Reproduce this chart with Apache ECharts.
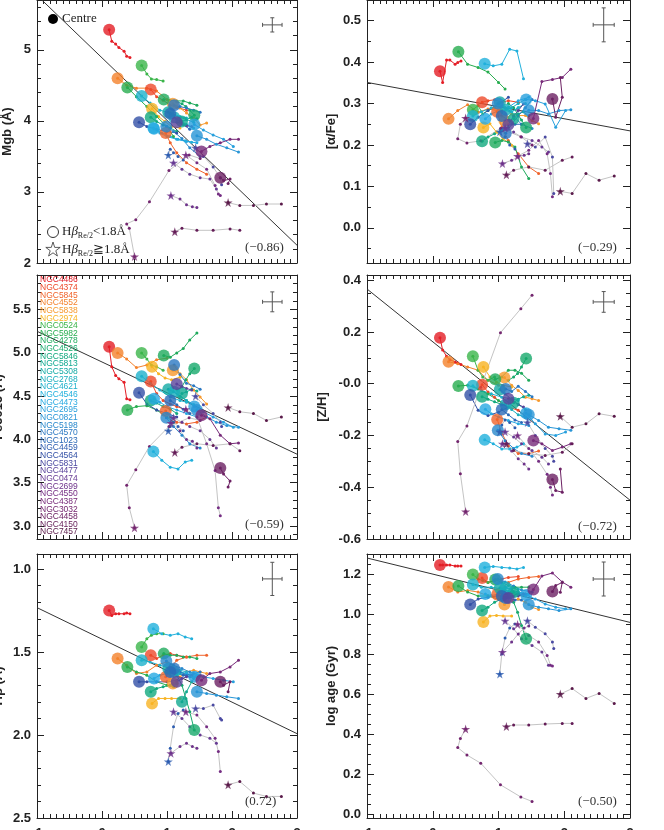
<!DOCTYPE html>
<html>
<head>
<meta charset="utf-8">
<script src="https://cdn.jsdelivr.net/npm/echarts@6/dist/echarts.min.js"></script>
<style>
  html, body { margin: 0; padding: 0; background: #fff; }
  #chart { width: 664px; height: 830px; }
</style>
</head>
<body>
<div id="chart"></div>
<script>
// galaxies, in the order of the name list
const names = ['NGC4486','NGC4374','NGC5845','NGC4552','NGC5838','NGC2974','NGC0524','NGC5982','NGC4278','NGC4526',
  'NGC5846','NGC5813','NGC5308','NGC2768','NGC4621','NGC4546','NGC4473','NGC2695','NGC0821','NGC5198',
  'NGC4570','NGC1023','NGC4459','NGC4564','NGC5831','NGC4477','NGC0474','NGC2699','NGC4550','NGC4387',
  'NGC3032','NGC4458','NGC4150','NGC7457']
const colors = ['#e41e26','#ee4a2a','#f0642c','#f4822c','#f79a2e','#f8b323','#3bb54a','#27ad4f','#1faa5c','#17a96c',
  '#12a97e','#11a991','#13aaa5','#18aebd','#1eb2cc','#21b0dc','#25a9e2','#27a0dd','#2895d6','#2888cc',
  '#2a78c2','#2a6ab8','#2d5db0','#3250a6','#4a4aa2','#5a439b','#663a93','#6e338b','#752d83','#772a79',
  '#73256e','#6c2163','#641d57','#5a1a4a']
// Hbeta(Re/2) >= 1.8 -> drawn as a star
const isStar = [0,0,0,0,0,0,0,0,0,0, 0,0,0,0,0,0,0,0,0,0, 0,0,1,0,1,0,1,1,1,0, 1,0,1,1]

// radial tracks: first point is the centre
const xTrack = [
  [0.11,0.15,0.21,0.26,0.34,0.38,0.43],
  [0.75,0.84,0.94,1.05,1.15,1.30],
  [0.98,1.05,1.15,1.30,1.46,1.61],
  [0.24,0.38,0.53,0.69,0.84,1.00],
  [1.09,1.20,1.30,1.41,1.51,1.61],
  [0.77,0.87,0.97,1.07,1.20],
  [0.61,0.69,0.76,0.84,0.94],
  [0.39,0.53,0.69,0.84,1.00,1.10],
  [0.95,1.05,1.15,1.25,1.35,1.46],
  [1.42,1.35,1.29,1.23,1.15],
  [0.75,0.84,0.94,1.05,1.15],
  [1.23,1.30,1.38,1.46],
  [1.02,1.10,1.20,1.30,1.41],
  [1.11,1.20,1.30,1.41],
  [0.61,0.74,0.89,1.05,1.20,1.30],
  [0.79,0.92,1.05,1.17,1.28,1.38],
  [0.80,0.89,1.00,1.15,1.30,1.46],
  [1.42,1.56,1.71,1.87,2.02],
  [1.46,1.61,1.76,1.92,2.10],
  [0.99,1.10,1.23,1.35,1.51],
  [1.11,1.20,1.30,1.41,1.51],
  [1.05,1.15,1.25,1.35],
  [1.02,1.05,1.10,1.17,1.25],
  [0.57,0.69,0.84,1.00,1.15],
  [1.44,1.56,1.71,1.82,1.84],
  [1.15,1.23,1.30,1.38],
  [1.10,1.23,1.35,1.51,1.66,1.76],
  [1.06,1.20,1.30,1.39,1.46],
  [1.29,1.46,1.61,1.74,1.79,1.82],
  [1.53,1.66,1.82,1.97,2.10],
  [0.50,0.42,0.38,0.52,0.73,1.03,1.34,1.51],
  [1.82,1.87,1.97,1.94],
  [1.12,1.23,1.46,1.71,1.97,2.12],
  [1.94,2.12,2.33,2.53,2.76]
]

const mgb = [
  [5.28,5.12,5.08,5.03,4.98,4.91,4.89],
  [4.44,4.34,4.29,4.22,4.19,4.15],
  [3.83,3.69,3.55,3.41,3.32,3.25],
  [4.60,4.50,4.46,4.46,4.42,4.30],
  [4.24,4.18,4.11,4.04,3.94,3.97],
  [4.17,4.06,3.99,3.92,3.90],
  [4.78,4.66,4.59,4.58,4.56],
  [4.47,4.34,4.20,4.06,3.92,3.78],
  [4.30,4.29,4.28,4.28,4.25,4.22],
  [4.08,4.15,4.20,4.24,4.27],
  [4.05,3.99,3.94,3.90,3.85],
  [3.99,4.02,4.05,4.03],
  [4.12,4.08,4.05,4.02,3.98],
  [4.05,4.00,3.95,3.90],
  [4.35,4.25,4.15,4.11,4.06,4.04],
  [3.90,3.83,3.78,3.74,3.72,3.70],
  [3.89,3.83,3.78,3.74,3.71,3.69],
  [3.95,3.87,3.80,3.74,3.64],
  [3.79,3.74,3.67,3.62,3.56],
  [3.92,3.85,3.75,3.62,3.50],
  [4.22,4.20,4.18,4.15,4.12],
  [4.10,4.02,3.95,3.88],
  [3.52,3.60,3.55,3.50,3.45],
  [3.98,3.92,3.88,3.85,3.83],
  [3.62,3.50,3.35,3.20,3.10],
  [3.98,3.96,3.93,3.92],
  [3.41,3.32,3.25,3.20,3.18,3.04],
  [2.95,2.90,2.82,2.79,2.78],
  [3.52,3.41,3.32,3.09,2.97,2.95],
  [3.57,3.64,3.69,3.74,3.74],
  [2.09,2.49,2.55,2.61,2.86,3.30,3.52,3.47],
  [3.20,3.16,3.18,3.12],
  [2.44,2.49,2.46,2.46,2.48,2.46],
  [2.85,2.81,2.81,2.83,2.83]
]

const alphaFe = [
  [0.378,0.351,0.405,0.405,0.395,0.399,0.403],
  [0.303,0.307,0.309,0.303,0.307,0.303],
  [0.280,0.243,0.211,0.179,0.147,0.131],
  [0.263,0.283,0.297,0.279,0.287,0.283],
  [0.259,0.275,0.271,0.271,0.259,0.251],
  [0.242,0.251,0.231,0.215,0.199],
  [0.285,0.295,0.275,0.283,0.291],
  [0.425,0.395,0.387,0.376,0.351,0.335],
  [0.206,0.211,0.207,0.195,0.147,0.119],
  [0.242,0.260,0.275,0.290,0.300],
  [0.209,0.219,0.227,0.235,0.243],
  [0.263,0.275,0.280,0.270],
  [0.303,0.290,0.280,0.290,0.300],
  [0.285,0.290,0.300,0.310],
  [0.270,0.280,0.290,0.285,0.280,0.290],
  [0.396,0.391,0.395,0.431,0.427,0.360],
  [0.263,0.275,0.283,0.291,0.307,0.315],
  [0.310,0.307,0.299,0.243,0.283],
  [0.284,0.283,0.275,0.283,0.285],
  [0.300,0.290,0.270,0.250,0.240],
  [0.228,0.250,0.270,0.290,0.310],
  [0.270,0.260,0.250,0.250],
  [0.232,0.240,0.220,0.200,0.190],
  [0.250,0.267,0.283,0.299,0.315],
  [0.203,0.195,0.219,0.171,0.083],
  [0.249,0.270,0.283,0.299],
  [0.241,0.231,0.219,0.211,0.195,0.183],
  [0.155,0.163,0.171,0.175,0.179],
  [0.173,0.187,0.211,0.179,0.131,0.075],
  [0.264,0.353,0.358,0.363,0.383],
  [0.265,0.250,0.215,0.205,0.210,0.240,0.220,0.200],
  [0.311,0.267,0.315,0.363],
  [0.128,0.139,0.147,0.139,0.163,0.171],
  [0.088,0.083,0.131,0.115,0.125]
]

const fe5015 = [
  [5.07,4.84,4.74,4.70,4.66,4.47,4.46],
  [4.67,4.53,4.45,4.41,4.38,4.34],
  [4.33,4.26,4.20,4.18,4.20,4.26],
  [5.00,4.93,4.83,4.86,4.92,4.94],
  [4.80,4.76,4.69,4.57,4.49,4.41],
  [4.84,4.76,4.71,4.69,4.72],
  [5.00,4.93,4.86,4.84,4.80],
  [4.34,4.38,4.39,4.34,4.26,4.20],
  [4.97,4.95,5.00,5.05,5.15,5.23],
  [4.82,4.76,4.69,4.61,4.57],
  [4.45,4.42,4.38,4.35,4.30],
  [4.53,4.55,4.58,4.56],
  [4.58,4.55,4.50,4.45,4.40],
  [4.55,4.50,4.45,4.40],
  [4.73,4.65,4.57,4.49,4.45,4.43],
  [3.86,3.76,3.68,3.66,3.74,3.76],
  [4.47,4.43,4.38,4.34,4.30,4.26],
  [4.38,4.32,4.26,4.20,4.14],
  [4.34,4.26,4.20,4.16,4.14],
  [4.25,4.15,4.05,3.95,3.90],
  [4.86,4.75,4.65,4.62,4.58],
  [4.45,4.40,4.35,4.30],
  [4.10,4.15,4.20,4.15,4.10],
  [4.54,4.41,4.34,4.30,4.26],
  [4.50,4.40,4.30,4.20,4.15],
  [4.64,4.61,4.59,4.57],
  [4.25,4.20,4.15,4.10,4.00,3.90],
  [4.19,4.10,4.00,3.98,3.90],
  [4.35,4.26,3.95,3.64,3.21,3.12],
  [4.28,4.24,4.05,3.95,3.96],
  [2.98,3.21,3.47,3.65,3.92,4.15,4.25,4.22],
  [3.67,3.60,3.52,3.45],
  [3.85,3.91,3.95,3.93,3.95,3.87],
  [4.37,4.32,4.30,4.22,4.26]
]

const zH = [
  [0.178,0.130,0.106,0.093,0.084,0.080,0.074],
  [-0.004,-0.032,-0.052,-0.077,-0.090,-0.103],
  [-0.138,-0.190,-0.240,-0.270,-0.270,-0.260],
  [0.085,0.077,0.065,0.052,0.013,-0.006],
  [0.024,-0.006,-0.026,-0.052,-0.058,-0.065],
  [0.065,0.026,0.006,-0.006,-0.013],
  [0.106,0.052,0.026,0.013,0.026],
  [-0.009,-0.006,-0.020,-0.040,-0.065,-0.077],
  [0.017,0.026,0.052,0.052,0.040,0.013],
  [0.097,0.065,0.039,0.026,0.013],
  [-0.050,-0.060,-0.070,-0.080,-0.090],
  [-0.074,-0.060,-0.050,-0.045],
  [-0.022,-0.040,-0.060,-0.080,-0.100],
  [-0.080,-0.100,-0.120,-0.130],
  [-0.008,-0.026,-0.039,-0.052,-0.058,-0.065],
  [-0.217,-0.232,-0.252,-0.252,-0.245,-0.232],
  [-0.099,-0.116,-0.129,-0.142,-0.155,-0.161],
  [-0.114,-0.155,-0.194,-0.200,-0.187],
  [-0.120,-0.142,-0.168,-0.174,-0.180],
  [-0.180,-0.220,-0.250,-0.270,-0.280],
  [-0.020,-0.030,-0.010,-0.030,-0.050],
  [-0.100,-0.120,-0.140,-0.150],
  [-0.186,-0.160,-0.140,-0.150,-0.170],
  [-0.044,-0.103,-0.123,-0.110,-0.090],
  [-0.150,-0.200,-0.250,-0.280,-0.300],
  [-0.058,-0.070,-0.080,-0.090],
  [-0.186,-0.206,-0.232,-0.258,-0.284,-0.310],
  [-0.232,-0.260,-0.290,-0.310,-0.330],
  [-0.200,-0.250,-0.300,-0.350,-0.400,-0.430],
  [-0.219,-0.232,-0.258,-0.245,-0.232],
  [-0.494,-0.348,-0.223,-0.163,-0.014,0.197,0.290,0.342],
  [-0.370,-0.413,-0.419,-0.330],
  [-0.232,-0.258,-0.271,-0.277,-0.265,-0.232],
  [-0.126,-0.168,-0.155,-0.116,-0.126]
]

const hBeta = [
  [1.25,1.28,1.27,1.27,1.27,1.265,1.27],
  [1.52,1.54,1.52,1.51,1.52,1.53],
  [1.65,1.60,1.55,1.53,1.52,1.52],
  [1.54,1.58,1.63,1.62,1.58,1.56],
  [1.69,1.65,1.62,1.61,1.62,1.63],
  [1.81,1.78,1.78,1.78,1.78],
  [1.47,1.42,1.40,1.39,1.39],
  [1.59,1.62,1.64,1.68,1.70,1.71],
  [1.51,1.52,1.52,1.53,1.53,1.54],
  [1.97,1.86,1.78,1.70,1.64],
  [1.74,1.72,1.71,1.70,1.69],
  [1.80,1.74,1.68,1.64],
  [1.60,1.61,1.62,1.63,1.65],
  [1.62,1.63,1.64,1.66],
  [1.55,1.56,1.58,1.60,1.61,1.62],
  [1.36,1.39,1.40,1.39,1.41,1.42],
  [1.66,1.64,1.63,1.62,1.63,1.64],
  [1.65,1.65,1.66,1.67,1.68],
  [1.74,1.75,1.76,1.77,1.78],
  [1.555,1.58,1.60,1.62,1.64],
  [1.60,1.62,1.64,1.63,1.62],
  [1.62,1.63,1.64,1.65],
  [2.16,2.08,1.95,1.87,1.85],
  [1.68,1.68,1.68,1.68,1.67],
  [1.84,1.84,1.82,1.90,1.91],
  [1.68,1.66,1.65,1.64],
  [1.86,1.90,1.95,2.00,2.02,2.05],
  [2.11,2.07,2.05,2.07,2.08],
  [1.86,1.88,1.95,2.02,2.10,2.22],
  [1.67,1.63,1.62,1.59,1.55],
  [2.90,2.85,2.80,2.75,2.70,2.65,2.60,2.55],
  [1.68,1.70,1.68,1.74],
  [2.72,2.70,2.68,2.70,2.66,2.68],
  [2.30,2.28,2.35,2.37,2.37]
]

const logAge = [
  [1.245,1.245,1.245,1.245,1.240,1.240,1.240],
  [1.180,1.158,1.167,1.175,1.183,1.187],
  [1.097,1.125,1.158,1.175,1.183,1.188],
  [1.135,1.110,1.118,1.110,1.090,1.085],
  [1.047,1.067,1.075,1.059,1.034,1.022],
  [0.960,0.990,0.993,0.990,0.990],
  [1.197,1.175,1.167,1.158,1.167],
  [1.140,1.110,1.090,1.090,1.075,1.075],
  [1.172,1.158,1.142,1.134,1.134,1.134],
  [0.876,0.943,1.009,1.059,1.109],
  [1.017,1.034,1.059,1.075,1.092],
  [1.109,1.100,1.100,1.100],
  [1.130,1.120,1.110,1.100,1.090],
  [1.134,1.120,1.110,1.100],
  [1.147,1.134,1.134,1.125,1.129,1.122],
  [1.233,1.238,1.233,1.230,1.225,1.233],
  [1.100,1.092,1.100,1.109,1.109,1.100],
  [1.095,1.075,1.050,1.034,1.026],
  [1.047,1.034,1.026,1.017,1.026],
  [1.175,1.160,1.140,1.120,1.110],
  [1.080,1.090,1.100,1.100,1.110],
  [1.090,1.080,1.070,1.070],
  [0.700,0.800,0.880,0.930,0.950],
  [1.047,1.075,1.084,1.092,1.100],
  [0.966,0.934,0.901,0.860,0.827],
  [1.080,1.090,1.090,1.100],
  [0.966,0.926,0.876,0.843,0.810,0.744],
  [0.810,0.860,0.900,0.930,0.940],
  [0.948,0.893,0.860,0.793,0.744,0.740],
  [1.122,1.190,1.205,1.160,1.134],
  [0.425,0.378,0.332,0.295,0.254,0.146,0.085,0.063],
  [1.112,1.142,1.158,1.109],
  [0.437,0.445,0.445,0.450,0.453,0.453],
  [0.600,0.627,0.578,0.603,0.553]
]

// best-fit lines (x = -1 and x = 3) and correlation coefficients
const fitX = [-1, 3]
const fitMgb = [5.765, 2.25]
const fitAlphaFe = [0.351, 0.234]
const fitFe5015 = [5.25, 3.83]
const fitZH = [0.366, -0.45]
const fitHBeta = [1.233, 1.992]
const fitLogAge = [1.28, 0.958]
const corrLabels = ['(\u22120.86)', '(\u22120.29)', '(\u22120.59)', '(\u22120.72)', '(0.72)', '(\u22120.50)']

// typical error: [x, y, dx, dy]
const errMgb = [2.62, 5.35, 0.15, 0.10]
const errAlphaFe = [2.60, 0.49, 0.16, 0.041]
const errFe5015 = [2.62, 5.59, 0.15, 0.115]
const errZH = [2.60, 0.316, 0.16, 0.04]
const errHBeta = [2.62, 1.06, 0.15, 0.10]
const errLogAge = [2.60, 1.175, 0.16, 0.085]

const xTicks = [-1, 0, 1, 2, 3]

const myChart = echarts.init(document.getElementById('chart'))

const starPath = 'path://M50,0 L61,35 L98,35 L68,57 L79,91 L50,70 L21,91 L32,57 L2,35 L39,35 Z'
const sans = 'Liberation Sans'
const serif = 'Liberation Serif'
const ink = '#222'

const panels = [
  { vals: mgb, fit: fitMgb, err: errMgb, box: [37, 0, 260, 263], min: 2, max: 5.7, step: 1, dec: 0, minor: 5, split: 5, name: 'Mgb (\u00c5)', gap: 23 },
  { vals: alphaFe, fit: fitAlphaFe, err: errAlphaFe, box: [367, 0, 263, 263], min: -0.085, max: 0.55, step: 0.1, dec: 1, minor: 2, split: 5, name: '[\u03b1/Fe]', gap: 29 },
  { vals: fe5015, fit: fitFe5015, err: errFe5015, box: [37, 275, 260, 264], min: 2.85, max: 5.9, step: 0.5, dec: 1, minor: 5, split: 5, name: 'Fe5015 (\u00c5)', gap: 32 },
  { vals: zH, fit: fitZH, err: errZH, box: [367, 275, 263, 264], min: -0.6, max: 0.42, step: 0.2, dec: 1, minor: 4, split: 5, name: '[Z/H]', gap: 38, zeroNeg: true },
  { vals: hBeta, fit: fitHBeta, err: errHBeta, box: [37, 554, 260, 264], min: 0.91, max: 2.5, step: 0.5, dec: 1, minor: 5, split: 3, name: 'H\u03b2 (\u00c5)', gap: 32, inverse: true },
  { vals: logAge, fit: fitLogAge, err: errLogAge, box: [367, 554, 263, 264], min: -0.02, max: 1.3, step: 0.2, dec: 1, minor: 4, split: 6, name: 'log age (Gyr)', gap: 29 }
]

const grid = []
const xAxis = []
const yAxis = []
const series = []

const frame = { show: true, onZero: false, lineStyle: { color: ink, width: 1 } }
const tickStyle = { inside: true, length: 7, lineStyle: { color: ink, width: 1 } }
const minorStyle = (n) => ({ show: true, splitNumber: n, length: 4, lineStyle: { color: ink, width: 1 } })

panels.forEach((p, i) => {
  grid.push({ left: p.box[0], top: p.box[1], width: p.box[2], height: p.box[3], containLabel: false, outerBoundsMode: 'none' })
  const bottomRow = i >= 4
  // bottom and top x axes
  xAxis.push({
    type: 'value', gridIndex: i, position: 'bottom', min: -1, max: 3, interval: 1,
    axisLine: frame, axisTick: tickStyle, minorTick: minorStyle(10), splitLine: { show: false },
    axisLabel: { show: bottomRow, margin: 9, fontSize: 13, fontWeight: 'bold', color: ink, fontFamily: sans,
      formatter: (v) => xTicks.indexOf(v) >= 0 ? String(v) : '' }
  })
  xAxis.push({
    type: 'value', gridIndex: i, position: 'top', min: -1, max: 3, interval: 1,
    axisLine: frame, axisTick: tickStyle, minorTick: minorStyle(10), splitLine: { show: false },
    axisLabel: { show: false }
  })
  const fmt = (v) => {
    const r = Math.round(v / p.step)
    if (Math.abs(v / p.step - r) > 1e-6) return ''
    let s = (r * p.step).toFixed(p.dec)
    if (r === 0 && p.zeroNeg) s = '-0.0'
    return s
  }
  yAxis.push({
    type: 'value', gridIndex: i, position: 'left', min: p.min, max: p.max, splitNumber: p.split, inverse: !!p.inverse,
    name: p.name, nameLocation: 'middle', nameGap: p.gap, nameRotate: 90,
    nameTextStyle: { fontSize: 13, fontWeight: 'bold', color: ink, fontFamily: sans },
    axisLine: frame, axisTick: tickStyle, minorTick: minorStyle(p.minor), splitLine: { show: false },
    axisLabel: { margin: 6, fontSize: 13, fontWeight: 'bold', color: ink, fontFamily: sans, formatter: fmt,
      showMinLabel: true, showMaxLabel: true }
  })
  yAxis.push({
    type: 'value', gridIndex: i, position: 'right', min: p.min, max: p.max, splitNumber: p.split, inverse: !!p.inverse,
    axisLine: frame, axisTick: tickStyle, minorTick: minorStyle(p.minor), splitLine: { show: false },
    axisLabel: { show: false }
  })
  const xi = i * 2
  const yi = i * 2

  // best fit
  series.push({
    type: 'line', xAxisIndex: xi, yAxisIndex: yi, data: fitX.map((x, k) => [x, p.fit[k]]),
    symbol: 'none', lineStyle: { color: '#333', width: 1 }, z: 1, silent: true, animation: false, clip: true
  })

  // radial tracks
  names.forEach((n, g) => {
    series.push({
      type: 'line', name: n, xAxisIndex: xi, yAxisIndex: yi,
      data: xTrack[g].map((x, k) => [x, p.vals[g][k]]),
      symbol: 'circle', symbolSize: 3, showSymbol: true, showAllSymbol: true,
      lineStyle: { color: isStar[g] ? '#c4c4c4' : colors[g], width: 1 },
      itemStyle: { color: colors[g] },
      z: 2, silent: true, animation: false, clip: true
    })
  })

  // centres
  series.push({
    type: 'scatter', xAxisIndex: xi, yAxisIndex: yi, z: 5, silent: true, animation: false, clip: true,
    data: names.map((n, g) => ({
      value: [xTrack[g][0], p.vals[g][0]],
      symbol: isStar[g] ? starPath : 'circle',
      symbolSize: isStar[g] ? 9 : 12,
      itemStyle: { color: colors[g] }
    }))
  })

  // typical error bar
  series.push({
    type: 'custom', xAxisIndex: xi, yAxisIndex: yi, z: 4, silent: true, animation: false,
    data: [p.err],
    renderItem: (params, api) => {
      const x = api.value(0), y = api.value(1), dx = api.value(2), dy = api.value(3)
      const l = api.coord([x - dx, y]), r = api.coord([x + dx, y])
      const t = api.coord([x, y + dy]), b = api.coord([x, y - dy])
      const st = { stroke: '#555', lineWidth: 1 }
      const seg = (x1, y1, x2, y2) => ({ type: 'line', shape: { x1, y1, x2, y2 }, style: st })
      return {
        type: 'group',
        children: [
          seg(l[0], l[1], r[0], r[1]),
          seg(t[0], t[1], b[0], b[1]),
          seg(l[0], l[1] - 2, l[0], l[1] + 2),
          seg(r[0], r[1] - 2, r[0], r[1] + 2),
          seg(t[0] - 2, t[1], t[0] + 2, t[1]),
          seg(b[0] - 2, b[1], b[0] + 2, b[1])
        ]
      }
    }
  })
})

// texts
const graphic = []
const corrPos = [[245, 248], [578, 248], [245, 525], [578, 527], [245, 802], [578, 802]]
corrLabels.forEach((t, i) => {
  graphic.push({ type: 'text', x: corrPos[i][0], y: corrPos[i][1], z: 10,
    style: { text: t, fill: '#333', font: '13px "' + serif + '"', verticalAlign: 'middle', align: 'left' } })
})

// symbol key in the Mgb panel
graphic.push({ type: 'circle', shape: { cx: 53, cy: 19, r: 5 }, style: { fill: '#000' }, z: 10 })
graphic.push({ type: 'text', x: 62, y: 19, z: 10,
  style: { text: 'Centre', fill: '#222', font: '13px "' + serif + '"', verticalAlign: 'middle' } })
graphic.push({ type: 'circle', shape: { cx: 53, cy: 232, r: 5.5 }, style: { fill: 'none', stroke: '#333', lineWidth: 1 }, z: 10 })
graphic.push({ type: 'polygon', shape: { points: [[53, 242], [54.7, 247.4], [60.2, 247.4], [55.8, 250.7], [57.4, 256], [53, 252.8], [48.6, 256], [50.2, 250.7], [45.8, 247.4], [51.3, 247.4]] },
  style: { fill: 'none', stroke: '#333', lineWidth: 0.8 }, z: 10 })
const keyRich = {
  a: { fontSize: 13, fontFamily: serif, fill: '#222' },
  b: { fontSize: 13, fontFamily: serif, fontStyle: 'italic', fill: '#222' },
  s: { fontSize: 8, fontFamily: serif, fill: '#222', padding: [7, 0, 0, 0] }
}
graphic.push({ type: 'text', x: 62, y: 232, z: 10,
  style: { text: '{a|H}{b|\u03b2}{s|Re/2}{a|<1.8\u00c5}', rich: keyRich, verticalAlign: 'middle' } })
graphic.push({ type: 'text', x: 62, y: 250, z: 10,
  style: { text: '{a|H}{b|\u03b2}{s|Re/2}{a|\u22671.8\u00c5}', rich: keyRich, verticalAlign: 'middle' } })

// galaxy name list in the Fe5015 panel
names.forEach((n, g) => {
  graphic.push({ type: 'text', x: 40, y: 280 + g * 7.64, z: 10,
    style: { text: n, fill: colors[g], font: '8.5px "' + sans + '"', verticalAlign: 'middle' } })
})

myChart.setOption({
  animation: false,
  backgroundColor: '#fff',
  grid, xAxis, yAxis, series, graphic
})
window.addEventListener('resize', () => myChart.resize())
</script>
</body>
</html>
